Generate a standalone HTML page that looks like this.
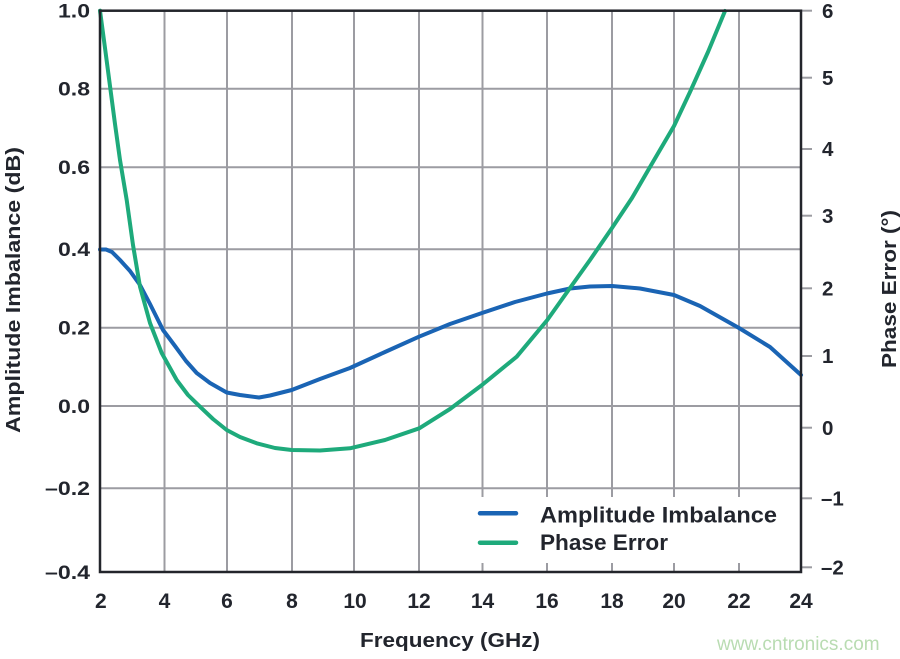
<!DOCTYPE html>
<html>
<head>
<meta charset="utf-8">
<style>
  html,body{margin:0;padding:0;background:#ffffff;}
  svg{display:block;}
  text{font-family:"Liberation Sans",Arial,sans-serif;font-weight:bold;fill:#22252d;}
</style>
</head>
<body>
<svg width="900" height="659" viewBox="0 0 900 659" xmlns="http://www.w3.org/2000/svg">
  <rect x="0" y="0" width="900" height="659" fill="#ffffff"/>

  <!-- vertical grid lines -->
  <g stroke="#9c9ca2" stroke-width="2" fill="none">
    <line x1="164.5" y1="11" x2="164.5" y2="572"/>
    <line x1="227" y1="11" x2="227" y2="572"/>
    <line x1="292" y1="11" x2="292" y2="572"/>
    <line x1="354" y1="11" x2="354" y2="572"/>
    <line x1="419" y1="11" x2="419" y2="572"/>
    <line x1="482.5" y1="11" x2="482.5" y2="572"/>
    <line x1="547" y1="11" x2="547" y2="572"/>
    <line x1="612" y1="11" x2="612" y2="572"/>
    <line x1="674" y1="11" x2="674" y2="572"/>
    <line x1="739" y1="11" x2="739" y2="572"/>
    <!-- horizontal grid lines -->
    <line x1="100" y1="88.7" x2="801" y2="88.7"/>
    <line x1="100" y1="167.3" x2="801" y2="167.3"/>
    <line x1="100" y1="249.3" x2="801" y2="249.3"/>
    <line x1="100" y1="327.7" x2="801" y2="327.7"/>
    <line x1="100" y1="406" x2="801" y2="406"/>
    <line x1="100" y1="488.3" x2="801" y2="488.3"/>
    <!-- right axis ticks -->
    <line x1="801" y1="77.7" x2="812" y2="77.7"/>
    <line x1="801" y1="149" x2="812" y2="149"/>
    <line x1="801" y1="215.7" x2="812" y2="215.7"/>
    <line x1="801" y1="288.3" x2="812" y2="288.3"/>
    <line x1="801" y1="356" x2="812" y2="356"/>
    <line x1="801" y1="427.7" x2="812" y2="427.7"/>
    <line x1="801" y1="498.3" x2="812" y2="498.3"/>
    <line x1="801" y1="567.3" x2="812" y2="567.3"/>
    <line x1="801" y1="10.7" x2="812" y2="10.7"/>
  </g>

  <!-- legend background -->
  <rect x="468" y="497" width="332" height="66" fill="#ffffff"/>

  <!-- Amplitude Imbalance (blue) -->
  <polyline fill="none" stroke="#1a64b4" stroke-width="4" stroke-linejoin="round" stroke-linecap="round"
    points="100,249.5 106,249.5 112,252 120,260 130,271 140,285 150,304 163,330 175,346 186,361 196.7,373 210,383 226.7,392.5 240,395 259,397.5 270,395.5 291.7,390 320,379 350,368 385,352 419,336.7 450,324 482,313 515,302 547,293.5 570,288.5 590,286.5 612,286 640,288.5 674,295 700,306 739,328 770,347 801,375"/>

  <!-- Phase Error (green) -->
  <polyline fill="none" stroke="#1eaa7b" stroke-width="4" stroke-linejoin="round" stroke-linecap="round"
    points="100,10.7 105,48 110,86 115,124 120,160 126.7,200 133,245 140,286.7 150,323 161.7,353 176.7,380 188,395 200,406.7 213,419 226.7,430 240,437 256.7,443.3 275,448 291.7,450 320,450.5 350,448.3 385,440 419.3,428.3 450,409 482,385 516.7,356.7 547.3,320 570,288 590,260 612,228 632,198 650,167 674,126 690,92 708,52 725,11"/>

  <!-- frame -->
  <rect x="100" y="10.7" width="701" height="561.3" fill="none" stroke="#23252b" stroke-width="2.5"/>

  <!-- legend -->
  <line x1="480" y1="513.3" x2="516" y2="513.3" stroke="#1a64b4" stroke-width="4.5" stroke-linecap="round"/>
  <line x1="480" y1="542.7" x2="516" y2="542.7" stroke="#1eaa7b" stroke-width="4.5" stroke-linecap="round"/>
  <text x="540" y="522.7" font-size="22" textLength="237" lengthAdjust="spacingAndGlyphs">Amplitude Imbalance</text>
  <text x="540" y="550" font-size="22" textLength="128" lengthAdjust="spacingAndGlyphs">Phase Error</text>

  <!-- left tick labels -->
  <g font-size="19.5" text-anchor="end">
    <text x="90" y="17.5" textLength="32" lengthAdjust="spacingAndGlyphs">1.0</text>
    <text x="90" y="95.5" textLength="32" lengthAdjust="spacingAndGlyphs">0.8</text>
    <text x="90" y="174" textLength="32" lengthAdjust="spacingAndGlyphs">0.6</text>
    <text x="90" y="256" textLength="32" lengthAdjust="spacingAndGlyphs">0.4</text>
    <text x="90" y="334.5" textLength="32" lengthAdjust="spacingAndGlyphs">0.2</text>
    <text x="90" y="413" textLength="32" lengthAdjust="spacingAndGlyphs">0.0</text>
    <text x="90" y="495" textLength="45" lengthAdjust="spacingAndGlyphs">–0.2</text>
    <text x="90" y="579" textLength="45" lengthAdjust="spacingAndGlyphs">–0.4</text>
  </g>

  <!-- right tick labels -->
  <g font-size="20.5">
    <text x="822" y="18">6</text>
    <text x="822" y="85">5</text>
    <text x="822" y="156">4</text>
    <text x="822" y="223">3</text>
    <text x="822" y="295.5">2</text>
    <text x="822" y="363">1</text>
    <text x="822" y="435">0</text>
    <text x="821" y="505.5">–1</text>
    <text x="821" y="574.5">–2</text>
  </g>

  <!-- x tick labels -->
  <g font-size="21" text-anchor="middle">
    <text x="100.8" y="608">2</text>
    <text x="164.5" y="608">4</text>
    <text x="227" y="608">6</text>
    <text x="292" y="608">8</text>
    <text x="355" y="608">10</text>
    <text x="419" y="608">12</text>
    <text x="482.5" y="608">14</text>
    <text x="547" y="608">16</text>
    <text x="612" y="608">18</text>
    <text x="674" y="608">20</text>
    <text x="739" y="608">22</text>
    <text x="801" y="608">24</text>
  </g>

  <!-- axis titles -->
  <text x="450" y="647" font-size="20" text-anchor="middle" textLength="180" lengthAdjust="spacingAndGlyphs">Frequency (GHz)</text>
  <text transform="translate(20,290) rotate(-90)" font-size="20" text-anchor="middle" textLength="286" lengthAdjust="spacingAndGlyphs">Amplitude Imbalance (dB)</text>
  <text transform="translate(896,289) rotate(-90)" font-size="20" text-anchor="middle" textLength="158" lengthAdjust="spacingAndGlyphs">Phase Error (°)</text>

  <!-- watermark -->
  <text x="717" y="650" font-size="19" style="font-weight:normal;fill:#b9dcb2">www.cntronics.com</text>
</svg>
</body>
</html>
